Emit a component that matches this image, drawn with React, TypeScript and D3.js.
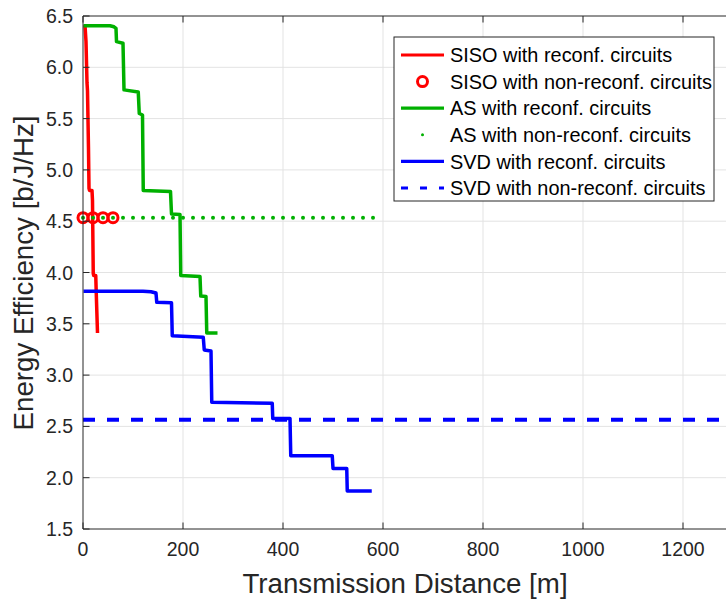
import React from "react";
import * as d3 from "d3";

type Pt = [number, number];

// Distance [m] vs energy efficiency [b/J/Hz]
const sisoReconf: Pt[] = [
  [4, 6.41], [6, 6.25], [8, 5.85], [9, 5.77], [11, 5.2], [12, 4.82], [13, 4.8],
  [18, 4.8], [19, 4.7], [20.5, 3.99], [21.5, 3.97], [25.5, 3.97], [26.5, 3.8], [29, 3.41],
];
const sisoNonReconfDist = [0, 20, 40, 60];
const sisoNonReconfEE = 4.534;

const asReconf: Pt[] = [
  [1, 6.405], [54, 6.405], [62, 6.395], [66, 6.38], [67, 6.25], [80, 6.235],
  [82, 5.78], [110.5, 5.76], [112.5, 5.55], [119, 5.535], [120.5, 4.8],
  [175, 4.79], [177, 4.57], [194, 4.565], [195.5, 3.97], [234, 3.96],
  [235.5, 3.77], [246, 3.765], [247.5, 3.41], [269, 3.41],
];
const asNonReconfDist = [
  0, 20, 40, 60, 80, 100, 120, 140, 160, 180, 200, 220, 240, 260, 280,
  300, 320, 340, 360, 380, 400, 420, 440, 460, 480, 500, 520, 540, 560, 580,
];
const asNonReconfEE = 4.534;

const svdReconf: Pt[] = [
  [1, 3.817], [120, 3.817], [136, 3.812], [146, 3.8], [147.5, 3.71],
  [177, 3.705], [178.5, 3.384], [240.5, 3.37], [242.5, 3.245], [256, 3.235],
  [257.5, 2.735], [378.5, 2.725], [379.5, 2.578], [414, 2.578], [415.5, 2.215],
  [498.5, 2.215], [500, 2.09], [527.5, 2.09], [528.5, 1.87], [577.5, 1.87],
];
const svdNonReconf: Pt[] = [
  [0, 2.565], [1280, 2.565],
];

const xTicks = [0, 200, 400, 600, 800, 1000, 1200];
const yTicks = [1.5, 2.0, 2.5, 3.0, 3.5, 4.0, 4.5, 5.0, 5.5, 6.0, 6.5];

const legendLabels = [
  "SISO with reconf. circuits",
  "SISO with non-reconf. circuits",
  "AS with reconf. circuits",
  "AS with non-reconf. circuits",
  "SVD with reconf. circuits",
  "SVD with non-reconf. circuits",
];

const RED = "#ff0000";
const GREEN = "#00b000";
const BLUE = "#0000ff";
const AXIS = "#262626";
const GRID = "#e3e3e3";
const FONT = "'Liberation Sans', Arial, Helvetica, sans-serif";

export default function App() {
  const W = 726;
  const H = 599;
  const x = d3.scaleLinear().domain([0, 1300]).range([83, 733]);
  const y = d3.scaleLinear().domain([1.5, 6.5]).range([529, 16]);
  const line = d3
    .line<Pt>()
    .x((d) => x(d[0]))
    .y((d) => y(d[1]));

  const [x0, x1] = x.range();
  const [yb, yt] = y.range();
  const fmtY = d3.format(".1f");

  const legX = 394;
  const legY = 37;
  const legW = 320;
  const legH = 164;
  const rowY = (i: number) => 55 + i * 26.6;
  const sampleX0 = 401;
  const sampleX1 = 444;
  const sampleMid = (sampleX0 + sampleX1) / 2;

  return (
    <svg
      width={W}
      height={H}
      style={{ position: "absolute", left: 0, top: 0, background: "#fff" }}
      fontFamily={FONT}
    >
      <rect x={0} y={0} width={W} height={H} fill="#fff" />
      {/* grid */}
      {xTicks.slice(1).map((t) => (
        <line key={"gx" + t} x1={x(t)} x2={x(t)} y1={yb} y2={yt} stroke={GRID} strokeWidth={1} />
      ))}
      {yTicks.slice(1, -1).map((t) => (
        <line key={"gy" + t} x1={x0} x2={x1} y1={y(t)} y2={y(t)} stroke={GRID} strokeWidth={1} />
      ))}

      {/* series */}
      <path d={line(sisoReconf) ?? ""} fill="none" stroke={RED} strokeWidth={3.5} strokeLinejoin="round" />
      {sisoNonReconfDist.map((d) => (
        <circle key={"sc" + d} cx={x(d)} cy={y(sisoNonReconfEE)} r={5} fill="none" stroke={RED} strokeWidth={3} />
      ))}
      <path d={line(asReconf) ?? ""} fill="none" stroke={GREEN} strokeWidth={3.5} strokeLinejoin="round" />
      {asNonReconfDist.map((d) => (
        <circle key={"ad" + d} cx={x(d)} cy={y(asNonReconfEE)} r={2} fill={GREEN} />
      ))}
      <path d={line(svdReconf) ?? ""} fill="none" stroke={BLUE} strokeWidth={3.5} strokeLinejoin="round" />
      <path d={line(svdNonReconf) ?? ""} fill="none" stroke={BLUE} strokeWidth={3.8} strokeDasharray="12,12" />

      {/* axes */}
      <line x1={x0} x2={x0} y1={yb} y2={yt} stroke={AXIS} strokeWidth={1} />
      <line x1={x0} x2={x1} y1={yb} y2={yb} stroke={AXIS} strokeWidth={1} />
      <line x1={x0} x2={x1} y1={yt} y2={yt} stroke={AXIS} strokeWidth={1} />
      {xTicks.map((t) => (
        <g key={"xt" + t}>
          <line x1={x(t)} x2={x(t)} y1={yb} y2={yb - 6.5} stroke={AXIS} strokeWidth={1} />
          <line x1={x(t)} x2={x(t)} y1={yt} y2={yt + 6.5} stroke={AXIS} strokeWidth={1} />
          <text x={x(t)} y={556} textAnchor="middle" fontSize={19.5} fill={AXIS}>
            {t}
          </text>
        </g>
      ))}
      {yTicks.map((t) => (
        <g key={"yt" + t}>
          <line x1={x0} x2={x0 + 6.5} y1={y(t)} y2={y(t)} stroke={AXIS} strokeWidth={1} />
          <text x={73} y={y(t)} dy="0.36em" textAnchor="end" fontSize={19.5} fill={AXIS}>
            {fmtY(t)}
          </text>
        </g>
      ))}
      <text x={405} y={593} textAnchor="middle" fontSize={27.7} fill={AXIS}>
        Transmission Distance [m]
      </text>
      <text
        transform={`translate(33,273) rotate(-90)`}
        textAnchor="middle"
        fontSize={27.7}
        fill={AXIS}
      >
        Energy Efficiency [b/J/Hz]
      </text>

      {/* legend */}
      <rect x={legX} y={legY} width={legW} height={legH} fill="#fff" stroke={AXIS} strokeWidth={1} />
      {legendLabels.map((lab, i) => {
        const ry = rowY(i);
        let sample: React.ReactNode = null;
        if (i === 0) sample = <line x1={sampleX0} x2={sampleX1} y1={ry} y2={ry} stroke={RED} strokeWidth={3.2} />;
        if (i === 1) sample = <circle cx={sampleMid} cy={ry} r={5} fill="none" stroke={RED} strokeWidth={3} />;
        if (i === 2) sample = <line x1={sampleX0} x2={sampleX1} y1={ry} y2={ry} stroke={GREEN} strokeWidth={3.2} />;
        if (i === 3) sample = <circle cx={sampleMid} cy={ry} r={1.5} fill={GREEN} />;
        if (i === 4) sample = <line x1={sampleX0} x2={sampleX1} y1={ry} y2={ry} stroke={BLUE} strokeWidth={3.2} />;
        if (i === 5)
          sample = (
            <line x1={sampleX0} x2={sampleX1} y1={ry} y2={ry} stroke={BLUE} strokeWidth={3.2} strokeDasharray="7,12" />
          );
        return (
          <g key={"lg" + i}>
            {sample}
            <text x={450} y={ry} dy="0.36em" fontSize={19.9} fill="#000">
              {lab}
            </text>
          </g>
        );
      })}
    </svg>
  );
}
